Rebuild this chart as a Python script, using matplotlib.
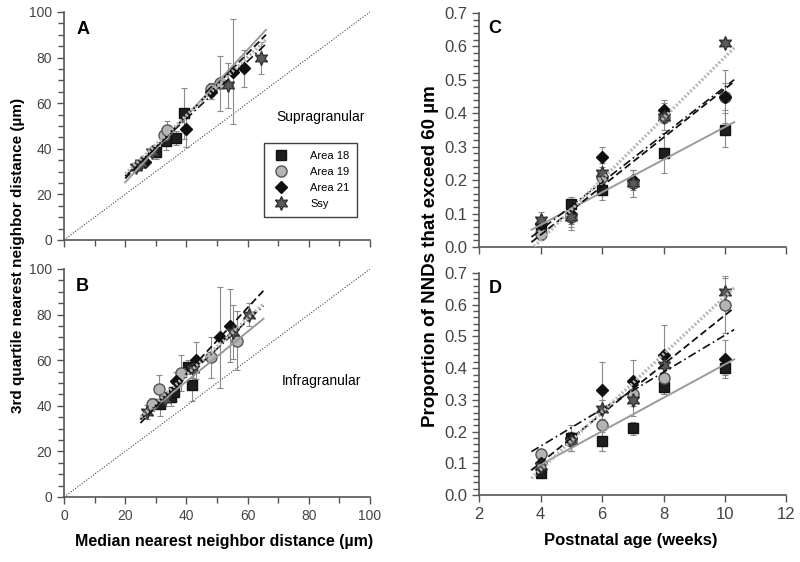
import matplotlib
matplotlib.use("Agg")
import matplotlib.pyplot as plt
from matplotlib.ticker import MultipleLocator
import numpy as np

plt.rcParams["font.family"] = ["Liberation Sans", "DejaVu Sans"]

SERIES = ["Area 18", "Area 19", "Area 21", "Ssy"]

# ---- Panel A: supragranular (median NND vs 3rd quartile NND) ----
a_x = {
    "Area 18": [30, 33.3, 36.7, 39.2],
    "Area 19": [32.7, 33.6, 48, 51],
    "Area 21": [26.5, 39.9, 48, 55.1, 58.9],
    "Ssy": [23.5, 25.2, 28.6, 53.7, 64.4],
}
a_y = {
    "Area 18": [38.7, 43.4, 44.6, 55.5],
    "Area 19": [46, 48.2, 66, 68.7],
    "Area 21": [34.3, 48.6, 65, 73.8, 75.3],
    "Ssy": [32.2, 33.7, 38.7, 67.8, 79.8],
}
a_err = {
    "Area 18": [3, 4, 3, 11],
    "Area 19": [3, 4, 3, 12],
    "Area 21": [2, 8, 3, 23, 8],
    "Ssy": [2, 2, 2, 10, 7],
}
a_fit = {  # slope, intercept
    "Area 18": (1.454, -3.8),
    "Area 19": (1.37, -0.4),
    "Area 21": (1.26, 2.8),
    "Ssy": (1.28, 3.4),
}

# ---- Panel B: infragranular ----
b_x = {
    "Area 18": [31.5, 35, 36, 40.4, 41.7],
    "Area 19": [28.7, 31.1, 38.3, 48.1, 56.5],
    "Area 21": [36.6, 43.2, 51, 54.3],
    "Ssy": [27, 33, 42, 55.2, 60.4],
}
b_y = {
    "Area 18": [40.6, 43.8, 46, 57, 48.9],
    "Area 19": [40.6, 47.4, 54.3, 61.3, 68.6],
    "Area 21": [51, 59.9, 70, 75.2],
    "Ssy": [37.2, 43, 56, 72.3, 79.9],
}
b_err = {
    "Area 18": [5, 4, 4, 3, 7],
    "Area 19": [3, 6, 8, 9, 13],
    "Area 21": [4, 8, 22, 16],
    "Ssy": [3, 3, 4, 12, 5],
}
b_fit = {
    "Area 18": (1.09, 7.1),
    "Area 19": (1.445, -3.7),
    "Area 21": (1.24, 3.0),
    "Ssy": (1.236, 4.1),
}

# ---- Panel C: supragranular, proportion of NNDs > 60 um ----
c_x = {
    "Area 18": [4, 5, 6, 8, 10],
    "Area 19": [4, 5, 6, 7, 8, 10],
    "Area 21": [4, 5, 6, 7, 8, 10],
    "Ssy": [4, 5, 6, 7, 8, 10],
}
c_y = {
    "Area 18": [0.06, 0.13, 0.17, 0.28, 0.35],
    "Area 19": [0.04, 0.09, 0.21, 0.19, 0.39, 0.45],
    "Area 21": [0.07, 0.10, 0.27, 0.20, 0.41, 0.45],
    "Ssy": [0.08, 0.09, 0.22, 0.19, 0.39, 0.61],
}
c_err = {
    "Area 18": [0.01, 0.02, 0.03, 0.06, 0.05],
    "Area 19": [0.02, 0.04, 0.02, 0.04, 0.02, 0.08],
    "Area 21": [0.02, 0.03, 0.03, 0.03, 0.03, 0.04],
    "Ssy": [0.025, 0.03, 0.03, 0.04, 0.04, 0.01],
}
c_fit = {
    "Area 18": (0.0488, -0.129),
    "Area 19": (0.0728, -0.255),
    "Area 21": (0.0713, -0.234),
    "Ssy": (0.0913, -0.345),
}

# ---- Panel D: infragranular ----
d_x = {s: [4, 5, 6, 7, 8, 10] for s in SERIES}
d_y = {
    "Area 18": [0.07, 0.18, 0.17, 0.21, 0.34, 0.40],
    "Area 19": [0.13, 0.17, 0.22, 0.32, 0.37, 0.60],
    "Area 21": [0.10, 0.18, 0.33, 0.36, 0.44, 0.43],
    "Ssy": [0.09, 0.17, 0.27, 0.30, 0.41, 0.64],
}
d_err = {
    "Area 18": [0.015, 0.02, 0.03, 0.02, 0.02, 0.02],
    "Area 19": [0.015, 0.03, 0.08, 0.04, 0.05, 0.09],
    "Area 21": [0.02, 0.04, 0.09, 0.065, 0.095, 0.06],
    "Ssy": [0.02, 0.03, 0.03, 0.05, 0.04, 0.045],
}
d_fit = {
    "Area 18": (0.0527, -0.115),
    "Area 19": (0.0776, -0.209),
    "Area 21": (0.0583, -0.079),
    "Ssy": (0.091, -0.284),
}

MARKERS = {
    "Area 18": dict(marker="s", mfc="#1e1e1e", mec="#111111", ms=7),
    "Area 19": dict(marker="o", mfc="#b4b4b4", mec="#555555", ms=8),
    "Area 21": dict(marker="D", mfc="#101010", mec="#101010", ms=6.5),
    "Ssy": dict(marker=(6, 1, 0), mfc="#5a5a5a", mec="#333333", ms=10),
}
LINES = {
    "Area 18": dict(color="#9a9a9a", lw=1.4, ls="-"),
    "Area 19": dict(color="#111111", lw=1.3, ls=(0, (4, 2))),
    "Area 21": dict(color="#111111", lw=1.2, ls=(0, (5, 2, 1, 2))),
    "Ssy": dict(color="#b8b8b8", lw=2.4, ls=(0, (0.6, 0.6))),
}

AX_COLOR = "#555555"
TICK_TXT = "#444444"


def style_axes(ax):
    for s in ("top", "right"):
        ax.spines[s].set_visible(False)
    for s in ("left", "bottom"):
        ax.spines[s].set_color(AX_COLOR)
        ax.spines[s].set_linewidth(1.2)
    ax.tick_params(which="both", direction="out", color=AX_COLOR, width=1,
                   labelcolor=TICK_TXT)
    ax.tick_params(which="major", length=5)
    ax.tick_params(which="minor", length=4)


def draw_panel(ax, xs, ys, errs, fits, xr):
    xx = np.array(xr)
    for s in SERIES:
        ax.errorbar(xs[s], ys[s], yerr=errs[s], fmt="none", ecolor="#8a8a8a",
                    elinewidth=0.8, capsize=2, capthick=0.8, zorder=2)
    for s in SERIES:
        ax.plot(xs[s], ys[s], ls="none", zorder=3, **MARKERS[s])
    for s in SERIES:
        m, b = fits[s]
        ax.plot(xx, m * xx + b, zorder=4, **LINES[s])


fig = plt.figure(figsize=(8, 5.62), dpi=100)
axA = fig.add_axes([0.08, 0.573, 0.3825, 0.4057])
axB = fig.add_axes([0.08, 0.1157, 0.3825, 0.4057])
axC = fig.add_axes([0.599, 0.5605, 0.384, 0.4164])
axD = fig.add_axes([0.599, 0.1192, 0.384, 0.3950])

for ax, xs, ys, errs, fits, xr, letter, layer in (
        (axA, a_x, a_y, a_err, a_fit, (20, 66), "A", "Supragranular"),
        (axB, b_x, b_y, b_err, b_fit, (25, 65.2), "B", "Infragranular")):
    style_axes(ax)
    ax.plot([0, 100], [0, 100], color="#444444", lw=0.8, ls=(0, (1, 1.5)), zorder=1)
    draw_panel(ax, xs, ys, errs, fits, xr)
    ax.set_xlim(0, 100)
    ax.set_ylim(0, 100)
    ax.xaxis.set_major_locator(MultipleLocator(20))
    ax.xaxis.set_minor_locator(MultipleLocator(10))
    ax.yaxis.set_major_locator(MultipleLocator(20))
    ax.yaxis.set_minor_locator(MultipleLocator(5))
    ax.tick_params(labelsize=10)
    ax.text(0.04, 0.96, letter, transform=ax.transAxes, fontsize=13,
            fontweight="bold", va="top", ha="left")
    ax.text(0.84, 0.54 if letter == "A" else 0.51, layer, transform=ax.transAxes,
            fontsize=10, ha="center", va="center")

axA.tick_params(axis="x", labelbottom=False)

handles = [plt.Line2D([], [], ls="none", **MARKERS[s]) for s in SERIES]
leg = axA.legend(handles, SERIES, loc="upper left", bbox_to_anchor=(0.655, 0.425),
                 fontsize=8, frameon=True, fancybox=False, edgecolor="#111111",
                 handletextpad=1.9, labelspacing=0.55, borderpad=0.7,
                 handlelength=1.5, borderaxespad=0)
leg.get_frame().set_linewidth(1.0)

for ax, xs, ys, errs, fits, letter in ((axC, c_x, c_y, c_err, c_fit, "C"),
                                       (axD, d_x, d_y, d_err, d_fit, "D")):
    style_axes(ax)
    draw_panel(ax, xs, ys, errs, fits, (3.7, 10.3))
    ax.set_xlim(2, 12)
    ax.set_ylim(0, 0.7)
    ax.xaxis.set_major_locator(MultipleLocator(2))
    ax.yaxis.set_major_locator(MultipleLocator(0.1))
    ax.yaxis.set_minor_locator(MultipleLocator(0.02))
    ax.yaxis.set_major_formatter(plt.FormatStrFormatter("%.1f"))
    ax.tick_params(labelsize=12)
    ax.text(0.03, 0.97, letter, transform=ax.transAxes, fontsize=13,
            fontweight="bold", va="top", ha="left")

axC.tick_params(axis="x", labelbottom=False)

fig.text(0.022, 0.545, "3rd quartile nearest neighbor distance (µm)", rotation=90,
         ha="center", va="center", fontsize=11, fontweight="bold")
fig.text(0.538, 0.545, "Proportion of NNDs that exceed 60 µm", rotation=90,
         ha="center", va="center", fontsize=13.5, fontweight="bold")
fig.text(0.28, 0.037, "Median nearest neighbor distance (µm)", ha="center",
         va="center", fontsize=11.5, fontweight="bold")
fig.text(0.788, 0.039, "Postnatal age (weeks)", ha="center", va="center",
         fontsize=12, fontweight="bold")

fig.savefig("out.png", dpi=100)
